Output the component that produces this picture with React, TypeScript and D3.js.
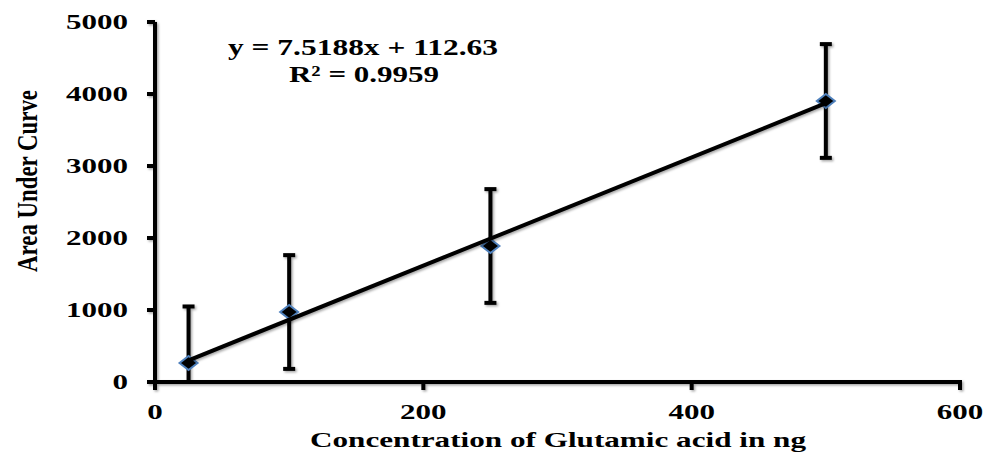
import React from "react";
import * as d3 from "d3";

const concentrations = [25, 100, 250, 500];
const areaValues = [264, 972, 1889, 3903];
const errorValues = [785, 790, 790, 790];
const xTicks = [0, 200, 400, 600];
const yTicks = [0, 1000, 2000, 3000, 4000, 5000];
const slope = 7.5188;
const intercept = 112.63;
const equationText = "y = 7.5188x + 112.63";
const r2Text = "R² = 0.9959";
const xTitle = "Concentration of Glutamic acid in ng";
const yTitle = "Area Under Curve";

export default function App() {
  const W = 986, H = 454;
  const x = d3.scaleLinear().domain([0, 600]).range([155, 960]);
  const y = d3.scaleLinear().domain([0, 5000]).range([382, 22]);
  const font = "'Liberation Serif', 'Times New Roman', serif";
  const trend = d3.line<number>().x(d => x(d)).y(d => y(slope * d + intercept));
  const xmin = d3.min(concentrations)!, xmax = d3.max(concentrations)!;
  return (
    <svg width={W} height={H} style={{ position: "absolute", left: 0, top: 0, background: "#fff" }}>
      <defs>
        <clipPath id="plot">
          <rect x={150} y={0} width={830} height={383} />
        </clipPath>
        <filter id="sh" filterUnits="userSpaceOnUse" x={0} y={0} width={W} height={H}>
          <feDropShadow dx="1.5" dy="1.5" stdDeviation="1.2" floodColor="#000" floodOpacity="0.35" />
        </filter>
      </defs>
      {/* axes */}
      <g filter="url(#sh)" stroke="#000" strokeWidth={4}>
        <line x1={x(0)} x2={x(0)} y1={y(5000)} y2={y(0)} />
        <line x1={x(0) - 2} x2={x(600) + 2} y1={y(0)} y2={y(0)} />
        {yTicks.map(t => (
          <line key={"yt" + t} x1={x(0) - 8} x2={x(0)} y1={y(t)} y2={y(t)} />
        ))}
        {xTicks.map(t => (
          <line key={"xt" + t} x1={x(t)} x2={x(t)} y1={y(0)} y2={y(0) + 8} />
        ))}
      </g>
      {yTicks.map(t => (
        <text key={"yl" + t} x={128} y={y(t) + 7} textAnchor="end" fontFamily={font} fontWeight="bold" fontSize={21}
          textLength={String(t).length * 15.5} lengthAdjust="spacingAndGlyphs">{t}</text>
      ))}
      {xTicks.map(t => (
        <text key={"xl" + t} x={x(t)} y={419} textAnchor="middle" fontFamily={font} fontWeight="bold" fontSize={21}
          textLength={String(t).length * 15.5} lengthAdjust="spacingAndGlyphs">{t}</text>
      ))}
      <text x={558} y={447} textAnchor="middle" fontFamily={font} fontWeight="bold" fontSize={22}
        textLength={496} lengthAdjust="spacingAndGlyphs">{xTitle}</text>
      <text transform={`translate(37,181) rotate(-90)`} textAnchor="middle" fontFamily={font} fontWeight="bold" fontSize={30}
        textLength={182} lengthAdjust="spacingAndGlyphs">{yTitle}</text>
      {/* error bars */}
      <g clipPath="url(#plot)">
        <g filter="url(#sh)" stroke="#000" strokeWidth={4}>
          {concentrations.map((c, i) => (
            <g key={"e" + i}>
              <line x1={x(c)} x2={x(c)} y1={y(areaValues[i] + errorValues[i])} y2={y(areaValues[i] - errorValues[i])} />
              <line x1={x(c) - 6} x2={x(c) + 6} y1={y(areaValues[i] + errorValues[i])} y2={y(areaValues[i] + errorValues[i])} />
              <line x1={x(c) - 6} x2={x(c) + 6} y1={y(areaValues[i] - errorValues[i])} y2={y(areaValues[i] - errorValues[i])} />
            </g>
          ))}
        </g>
      </g>
      {/* markers */}
      {concentrations.map((c, i) => (
        <path key={"m" + i} transform={`translate(${x(c)},${y(areaValues[i])})`} d="M0,-7L9,0L0,7L-9,0Z"
          fill="#000" stroke="#4F81BD" strokeWidth={2} />
      ))}
      {/* trend line */}
      <path d={trend([xmin, xmax]) || ""} fill="none" stroke="#000" strokeWidth={4} filter="url(#sh)" />
      <text x={363} y={55} textAnchor="middle" fontFamily={font} fontWeight="bold" fontSize={23}
        textLength={270} lengthAdjust="spacingAndGlyphs">{equationText}</text>
      <text x={364} y={82} textAnchor="middle" fontFamily={font} fontWeight="bold" fontSize={23}
        textLength={150} lengthAdjust="spacingAndGlyphs">{r2Text}</text>
    </svg>
  );
}
